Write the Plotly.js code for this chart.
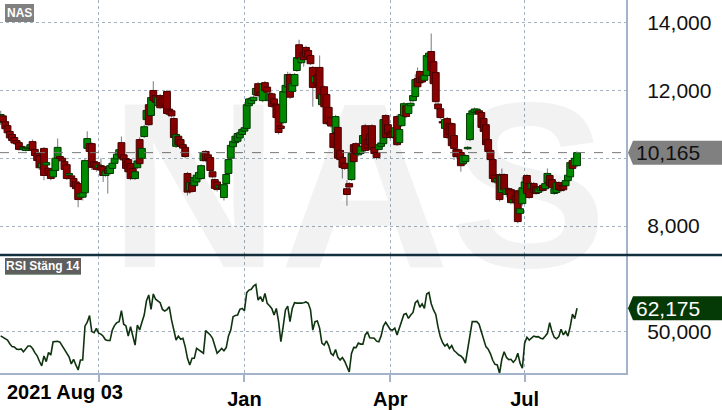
<!DOCTYPE html>
<html><head><meta charset="utf-8">
<script src="https://cdn.plot.ly/plotly-3.0.1.min.js"></script>
<style>html,body{margin:0;padding:0;background:#fff;overflow:hidden}#chart{width:722px;height:410px}</style>
</head><body><div id="chart"></div>
<script>
const symbol = "NAS";
const indicatorName = "RSI Stäng 14";
const startLabel = "2021 Aug 03";
const tickIdx = [43, 107, 171, 230];
const tickText = ["", "Jan", "Apr", "Jul"];
const priceTicks = [8, 10, 12, 14];
const rsiTicks = [50];

const open = [11.05,11.25,11.08,10.96,10.79,10.70,10.61,10.52,10.46,10.35,
10.26,10.23,10.28,10.30,10.49,10.26,10.14,10.08,9.72,10.29,
9.80,9.70,9.64,9.45,9.64,10.00,10.05,10.00,9.90,9.81,
9.50,9.48,9.40,9.30,9.25,8.85,8.85,8.98,10.29,10.43,
10.43,9.90,9.87,9.72,9.78,9.75,9.49,9.70,9.55,9.70,
9.85,9.98,10.10,10.46,10.10,9.99,9.96,9.84,9.70,9.40,
9.72,10.55,10.00,10.64,11.14,11.58,11.26,12.00,11.85,11.55,
11.85,11.80,11.75,11.97,11.45,11.40,11.17,10.35,10.65,10.55,
10.40,10.32,9.55,9.05,9.25,9.19,9.30,9.40,9.40,9.93,
10.20,10.10,10.02,9.60,9.37,9.30,9.12,9.20,8.84,9.25,
9.55,10.00,10.34,10.46,10.50,10.60,10.70,10.80,10.88,11.55,
11.61,11.70,11.88,12.20,11.95,11.70,12.23,12.10,11.70,11.90,
11.75,11.58,11.58,10.95,11.05,11.95,12.10,12.47,11.97,12.14,
12.59,13.35,12.82,13.12,13.27,13.18,13.03,12.68,12.23,12.45,
12.68,11.58,12.11,11.88,11.50,11.20,10.73,10.76,10.91,10.23,
10.02,9.85,9.10,9.25,9.37,10.40,10.43,10.10,10.14,10.43,
10.96,10.55,10.70,10.96,10.32,10.17,10.26,10.35,10.43,11.26,
10.99,10.76,10.80,10.62,11.23,10.46,10.96,11.26,11.55,11.32,
11.55,11.70,11.82,12.35,12.56,12.40,12.30,12.44,13.00,13.15,
12.85,12.53,11.60,11.46,11.08,10.88,11.17,11.02,11.02,10.67,
10.26,10.25,10.17,9.84,9.90,10.28,10.55,11.30,11.35,11.38,
11.40,11.35,11.17,10.99,10.55,10.23,9.96,9.50,9.30,9.52,
8.99,9.52,8.93,9.10,9.07,8.69,8.90,9.04,8.37,8.66,
9.10,9.49,9.25,9.10,9.25,9.16,8.99,9.05,9.20,9.10,
9.28,9.49,9.37,8.96,8.99,9.28,9.20,9.19,9.19,9.34,
9.45,9.93,9.78,9.78];

const close = [11.29,11.08,10.87,10.75,10.60,10.52,10.45,10.43,10.26,10.27,
10.32,10.30,10.33,10.40,10.23,10.08,9.93,9.72,9.85,9.49,
9.87,9.55,9.40,9.65,10.00,10.32,9.99,9.92,9.67,9.40,
9.55,9.40,9.16,9.10,8.78,8.95,8.98,9.93,10.58,10.20,
9.73,9.75,9.67,9.80,9.65,9.49,9.62,9.55,9.78,9.85,
10.00,10.12,10.25,10.02,9.95,9.70,9.60,9.40,9.45,9.60,
9.92,9.84,10.29,10.93,11.41,10.99,11.79,11.70,11.65,11.80,
11.49,11.55,11.60,11.32,11.30,11.25,10.61,10.70,10.40,10.35,
10.30,10.05,9.00,9.28,9.02,9.43,9.50,9.58,9.78,10.17,
9.93,9.95,9.64,9.45,9.11,9.08,9.20,9.10,9.22,9.52,
9.96,10.38,10.50,10.65,10.73,10.75,10.85,10.90,11.58,11.75,
11.76,11.80,12.06,11.85,11.85,12.20,12.00,11.95,11.90,11.53,
11.60,11.20,10.76,10.88,11.97,12.15,12.47,11.80,12.20,12.47,
12.97,12.94,12.97,12.91,13.00,12.97,12.79,12.09,12.41,12.15,
11.76,11.88,11.52,11.02,11.05,10.95,10.32,11.23,10.00,9.96,
9.73,9.70,8.93,9.15,10.14,9.90,10.14,10.14,10.35,10.67,
10.23,10.30,10.40,10.25,10.14,10.02,10.40,10.45,11.14,10.61,
10.73,10.61,10.62,10.90,10.40,10.85,11.29,11.61,11.23,11.58,
11.62,11.85,12.32,12.11,12.23,12.25,12.45,13.03,13.10,12.59,
12.20,11.67,11.46,11.20,11.04,11.14,10.61,10.70,10.37,10.29,
10.05,10.05,9.78,10.08,10.08,10.32,11.32,11.40,11.45,11.45,
11.30,10.91,10.79,10.40,10.20,9.96,9.40,9.30,9.40,8.78,
9.49,9.07,9.10,8.95,8.69,8.78,8.70,8.13,8.51,9.13,
9.30,8.96,8.84,9.25,8.99,8.96,9.10,9.15,9.05,9.25,
9.55,9.19,9.13,9.10,9.28,9.07,9.05,9.07,9.34,9.50,
9.87,9.70,10.00,10.165];

const high = [11.40,11.30,11.12,11.00,10.85,10.74,10.66,10.56,10.50,10.38,
10.36,10.34,10.40,10.45,10.55,10.30,10.18,10.12,9.90,10.33,
9.92,9.74,9.68,9.70,10.05,10.58,10.08,10.03,9.93,9.85,
9.60,9.52,9.44,9.34,9.28,9.00,9.02,9.98,10.80,10.48,
10.47,9.94,9.90,9.85,10.00,9.78,9.66,9.74,9.82,9.88,
10.03,10.16,10.30,10.64,10.14,10.03,10.00,9.88,9.74,9.64,
9.96,10.62,10.35,10.98,11.46,11.62,11.85,12.27,11.90,11.85,
11.90,11.84,11.80,12.02,11.50,11.44,11.22,10.75,10.70,10.60,
10.44,10.36,9.60,9.32,9.30,9.48,9.55,9.62,9.82,10.22,
10.24,10.14,10.06,9.64,9.41,9.34,9.24,9.24,9.26,9.56,
10.00,10.42,10.55,10.70,10.78,10.80,10.90,10.95,11.63,11.80,
11.80,11.86,12.12,12.25,12.00,12.25,12.28,12.14,11.95,11.95,
11.80,11.62,11.62,10.98,12.02,12.20,12.55,12.52,12.25,12.52,
13.02,13.50,13.02,13.16,13.32,13.22,13.07,12.72,12.45,12.50,
13.03,11.92,12.15,11.92,11.55,11.25,10.78,11.28,10.95,10.27,
10.06,9.90,9.35,9.30,10.20,10.45,10.47,10.18,10.40,10.72,
11.02,10.60,10.75,11.00,10.36,10.20,10.44,10.50,11.18,11.30,
11.03,10.80,10.84,10.95,11.28,10.90,11.34,11.66,11.60,11.62,
11.80,11.90,12.48,12.68,12.60,12.45,12.50,13.08,13.15,13.68,
12.90,12.58,11.65,11.50,11.10,11.18,11.22,11.06,11.06,10.72,
10.30,10.28,10.22,10.12,10.12,10.36,11.36,11.46,11.50,11.48,
11.44,11.40,11.22,11.04,10.60,10.27,10.00,9.54,9.44,9.56,
9.70,9.56,9.14,9.14,9.11,8.82,9.00,9.08,8.55,9.45,
9.34,9.53,9.30,9.30,9.30,9.20,9.14,9.20,9.24,9.30,
9.70,9.53,9.41,9.14,9.32,9.32,9.24,9.23,9.38,9.54,
9.91,9.97,10.04,10.20];

const low = [10.98,11.00,10.80,10.70,10.55,10.48,10.40,10.38,10.22,10.22,
10.22,10.20,10.25,10.27,10.18,10.02,9.88,9.65,9.68,9.35,
9.75,9.50,9.35,9.42,9.60,9.98,9.95,9.88,9.62,9.36,
9.45,9.36,9.10,9.05,8.55,8.80,8.75,8.95,10.25,10.15,
9.65,9.70,9.60,9.68,9.60,9.30,9.45,8.96,9.50,9.65,
9.80,9.95,10.05,9.98,9.90,9.65,9.55,9.35,9.38,9.36,
9.68,9.80,9.95,10.60,11.10,10.95,11.20,11.65,11.60,11.50,
11.45,11.50,11.55,11.28,11.25,11.20,10.55,10.30,10.35,10.30,
10.25,10.00,8.90,8.95,8.98,9.15,9.26,9.35,9.36,9.90,
9.88,9.90,9.55,9.40,9.05,9.02,9.08,9.05,8.75,9.20,
9.50,9.96,10.30,10.42,10.46,10.56,10.66,10.76,10.85,11.50,
11.55,11.65,11.84,11.80,11.80,11.65,11.95,11.90,11.60,11.48,
11.55,11.15,10.70,10.80,11.00,11.90,12.05,11.75,11.92,12.10,
12.55,12.90,12.78,12.70,12.96,12.93,12.75,11.52,12.18,12.10,
11.70,11.50,11.48,10.98,11.00,10.90,10.28,10.70,9.95,9.90,
9.40,9.65,8.60,9.10,9.33,9.70,10.10,10.05,10.10,10.40,
10.18,10.25,10.35,10.20,10.10,9.96,10.22,10.30,10.40,10.56,
10.68,10.56,10.58,10.58,10.36,10.42,10.92,11.22,11.18,11.28,
11.50,11.65,11.78,12.06,12.18,12.20,12.25,12.40,12.95,12.55,
12.15,11.62,11.40,11.15,11.00,10.84,10.56,10.65,10.32,9.95,
10.00,10.00,9.60,9.80,9.80,10.24,10.50,11.25,11.30,11.33,
11.25,10.86,10.74,10.35,10.15,9.90,9.35,9.25,9.20,8.72,
8.95,9.02,8.85,8.90,8.64,8.64,8.65,8.08,8.30,8.60,
9.05,8.90,8.80,9.06,8.94,8.92,8.95,9.00,9.00,9.05,
9.24,9.15,9.08,8.92,8.95,9.02,9.00,9.02,9.15,9.30,
9.40,9.65,9.74,9.74];

const rsi = [48.0,47.2,46.4,45.8,44.0,42.5,42.3,41.2,41.0,41.3,
39.9,41.5,42.8,42.8,41.5,39.4,37.8,35.0,32.6,37.7,
34.8,39.5,38.2,45.0,45.1,45.2,44.8,43.0,41.2,39.0,
37.3,33.6,36.0,33.1,30.5,35.6,35.6,53.0,55.0,58.4,
50.2,49.6,51.9,49.4,48.9,47.8,46.0,45.6,45.6,51.0,
53.4,54.8,55.3,61.0,54.0,53.1,47.9,52.7,48.0,43.3,
53.6,51.0,55.0,58.7,66.0,69.0,61.6,69.5,66.8,66.0,
65.0,61.6,60.8,61.5,63.0,56.2,51.0,45.9,47.9,46.3,
46.8,42.5,36.5,33.1,36.5,36.5,41.6,40.8,39.7,39.1,
50.7,49.6,48.5,46.8,43.3,39.1,40.3,41.6,40.4,42.0,
48.0,51.0,57.8,58.5,58.7,61.6,62.1,60.9,70.2,71.5,
71.9,73.6,74.4,66.4,68.1,65.5,69.8,64.7,63.5,62.1,
58.7,62.1,55.3,45.0,52.7,61.3,63.3,55.3,62.1,65.0,
64.8,64.7,64.8,65.0,65.4,64.7,61.5,51.0,55.3,55.6,
52.0,44.3,43.3,45.5,43.0,39.0,38.0,41.0,37.0,35.6,
36.9,35.0,32.0,29.5,39.0,42.1,42.0,44.3,43.8,43.8,
48.5,50.0,47.0,47.0,46.8,45.3,45.0,48.0,53.0,55.0,
53.0,51.3,51.0,52.0,48.5,52.0,56.5,59.0,59.5,57.0,
58.7,60.0,65.0,66.1,62.7,64.4,62.1,69.5,70.2,64.5,
61.3,59.0,52.5,47.5,44.5,42.8,43.8,41.5,43.0,40.5,
39.5,38.3,37.7,36.5,34.0,41.0,47.5,55.3,55.3,55.3,
54.0,50.5,47.0,42.5,41.2,38.8,35.5,33.4,33.1,28.8,
36.0,39.9,37.0,35.8,36.0,34.5,35.8,39.1,34.0,31.4,
44.2,47.3,45.9,46.8,47.9,47.5,47.6,46.8,46.5,47.8,
49.3,54.8,50.2,47.3,46.5,47.6,51.4,48.5,50.2,47.9,
52.7,59.2,56.9,62.175];

// ---- derived for drawing ----
const idx = close.map((_, i) => i);
const up = close.map((c, i) => c >= open[i]);
const bodyBase = open.map((o, i) => Math.min(o, close[i]));
const bodyLen = open.map((o, i) => Math.abs(close[i] - o));
const wickLen = high.map((h, i) => h - low[i]);
const lastClose = close[close.length - 1];
const lastRsi = rsi[rsi.length - 1];
const fmt = v => v.toFixed(3).replace('.', ',');
// the last-value marker covers the tick label next to it
const priceTickText = priceTicks.map(v => Math.abs(v - lastClose) < 0.5 ? '' : fmt(v));
const rsiTickText = rsiTicks.map(v => Math.abs(v - lastRsi) < 5 ? '' : fmt(v));

const FONT = "Liberation Sans, Arial, sans-serif";
const GRID = '#a3b1c0';
const AXIS = '#a2b3ca';
const RED = '#8b0000', RED_EDGE = '#470000';
const GREEN = '#008a00', GREEN_EDGE = '#003a00';

const traces = [
  {type: 'bar', x: idx, base: low, y: wickLen, width: 0.5,
   marker: {color: '#8a8a8a', line: {width: 0}}, xaxis: 'x', yaxis: 'y', hoverinfo: 'skip'},
  {type: 'bar', x: idx, base: bodyBase, y: bodyLen, width: 3.0,
   marker: {color: up.map(u => u ? GREEN : RED), line: {color: up.map(u => u ? GREEN_EDGE : RED_EDGE), width: 1}},
   xaxis: 'x', yaxis: 'y', hoverinfo: 'skip'},
  {type: 'scatter', mode: 'lines', x: idx, y: rsi, line: {color: '#0f330f', width: 1.6},
   xaxis: 'x2', yaxis: 'y2', hoverinfo: 'skip'}
];

const PH = 373; // plot height in px
const mainBottom = (PH - 255) / PH;
const rsiTop = (PH - 256) / PH;

const layout = {
  width: 722, height: 410,
  margin: {l: 0, r: 96, t: 0, b: 37, pad: 0},
  paper_bgcolor: '#ffffff', plot_bgcolor: '#ffffff',
  separators: ',.', showlegend: false, barmode: 'overlay',
  font: {family: FONT, color: '#111'},
  xaxis: {domain: [0, 1], anchor: 'y', range: [-0.3, 274.5], tickvals: tickIdx, ticktext: tickText,
    showticklabels: false, showgrid: true, gridcolor: GRID, griddash: 'dot', gridwidth: 1,
    zeroline: false, showline: false, ticks: ''},
  yaxis: {domain: [mainBottom, 1], anchor: 'x', side: 'right', range: [7.144, 14.67],
    tickvals: priceTicks, ticktext: priceTickText, showgrid: true, gridcolor: GRID, griddash: 'dot',
    zeroline: false, showline: true, linecolor: AXIS, linewidth: 2, ticks: '',
    ticklabelstandoff: 15, tickfont: {family: FONT, size: 21, color: '#111'}},
  xaxis2: {domain: [0, 1], anchor: 'y2', matches: 'x', tickvals: tickIdx, ticktext: tickText,
    showgrid: true, gridcolor: GRID, griddash: 'dot', gridwidth: 1, zeroline: false,
    showline: true, linecolor: AXIS, linewidth: 2, ticks: 'outside', ticklen: 7, tickwidth: 2,
    tickcolor: AXIS, tickfont: {family: FONT, size: 20, color: '#000', weight: 'bold'}},
  yaxis2: {domain: [0, rsiTop], anchor: 'x2', side: 'right', range: [28.97, 88.97],
    tickvals: rsiTicks, ticktext: rsiTickText, showgrid: true, gridcolor: GRID, griddash: 'dot',
    zeroline: false, showline: true, linecolor: AXIS, linewidth: 2, ticks: '',
    ticklabelstandoff: 15, tickfont: {family: FONT, size: 21, color: '#111'}},
  shapes: [
    {type: 'line', xref: 'paper', yref: 'paper', x0: 0, x1: 722 / 626, y0: mainBottom, y1: mainBottom,
     line: {color: '#13303f', width: 2.5}},
    {type: 'line', xref: 'paper', yref: 'y', x0: 0, x1: 1, y0: lastClose, y1: lastClose,
     line: {color: '#7a7a7a', width: 1, dash: 'dash'}},
    {type: 'path', xref: 'paper', xsizemode: 'pixel', xanchor: 1, yref: 'y', ysizemode: 'pixel', yanchor: lastClose,
     path: 'M 2,0 L 7,12 L 100,12 L 100,-12 L 7,-12 Z', fillcolor: '#808080', line: {width: 0}},
    {type: 'path', xref: 'paper', xsizemode: 'pixel', xanchor: 1, yref: 'y2', ysizemode: 'pixel', yanchor: lastRsi,
     path: 'M 2,0 L 7,12 L 100,12 L 100,-12 L 7,-12 Z', fillcolor: '#053905', line: {width: 0}},
    {type: 'rect', xref: 'paper', yref: 'paper', x0: 5 / 626, x1: 81 / 626,
     y0: (PH - 274.5) / PH, y1: (PH - 272.5) / PH, fillcolor: '#0d3d0d', line: {width: 0}}
  ],
  annotations: [
    {text: symbol, xref: 'paper', yref: 'paper', x: 0.572, y: 0.503, xanchor: 'center', yanchor: 'middle',
     showarrow: false, font: {family: FONT, size: 236, color: 'rgba(0,0,0,0.05)', weight: 'bold'}},
    {text: symbol, xref: 'paper', yref: 'paper', x: 5 / 626, y: 1 - 4 / PH, xanchor: 'left', yanchor: 'top',
     showarrow: false, bgcolor: '#808080', borderpad: 2, borderwidth: 0,
     font: {family: FONT, size: 12, color: '#ffffff', weight: 'bold'}},
    {text: indicatorName, xref: 'paper', yref: 'paper', x: 5 / 626, y: (PH - 258) / PH, xanchor: 'left', yanchor: 'top',
     showarrow: false, bgcolor: '#5e5e5e', borderpad: 1, borderwidth: 0,
     font: {family: FONT, size: 12, color: '#ffffff', weight: 'bold'}},
    {text: startLabel, xref: 'paper', yref: 'paper', x: 5 / 626, y: (PH - 392) / PH, xanchor: 'left', yanchor: 'middle',
     showarrow: false, font: {family: FONT, size: 20, color: '#000', weight: 'bold'}},
    {text: fmt(lastClose), xref: 'paper', yref: 'y', x: 1, xshift: 8, y: lastClose, xanchor: 'left', yanchor: 'middle',
     showarrow: false, font: {family: FONT, size: 21, color: '#111'}},
    {text: fmt(lastRsi), xref: 'paper', yref: 'y2', x: 1, xshift: 8, y: lastRsi, xanchor: 'left', yanchor: 'middle',
     showarrow: false, font: {family: FONT, size: 21, color: '#ffffff'}}
  ]
};

Plotly.newPlot('chart', traces, layout, {staticPlot: true, displayModeBar: false});
</script>
</body></html>
